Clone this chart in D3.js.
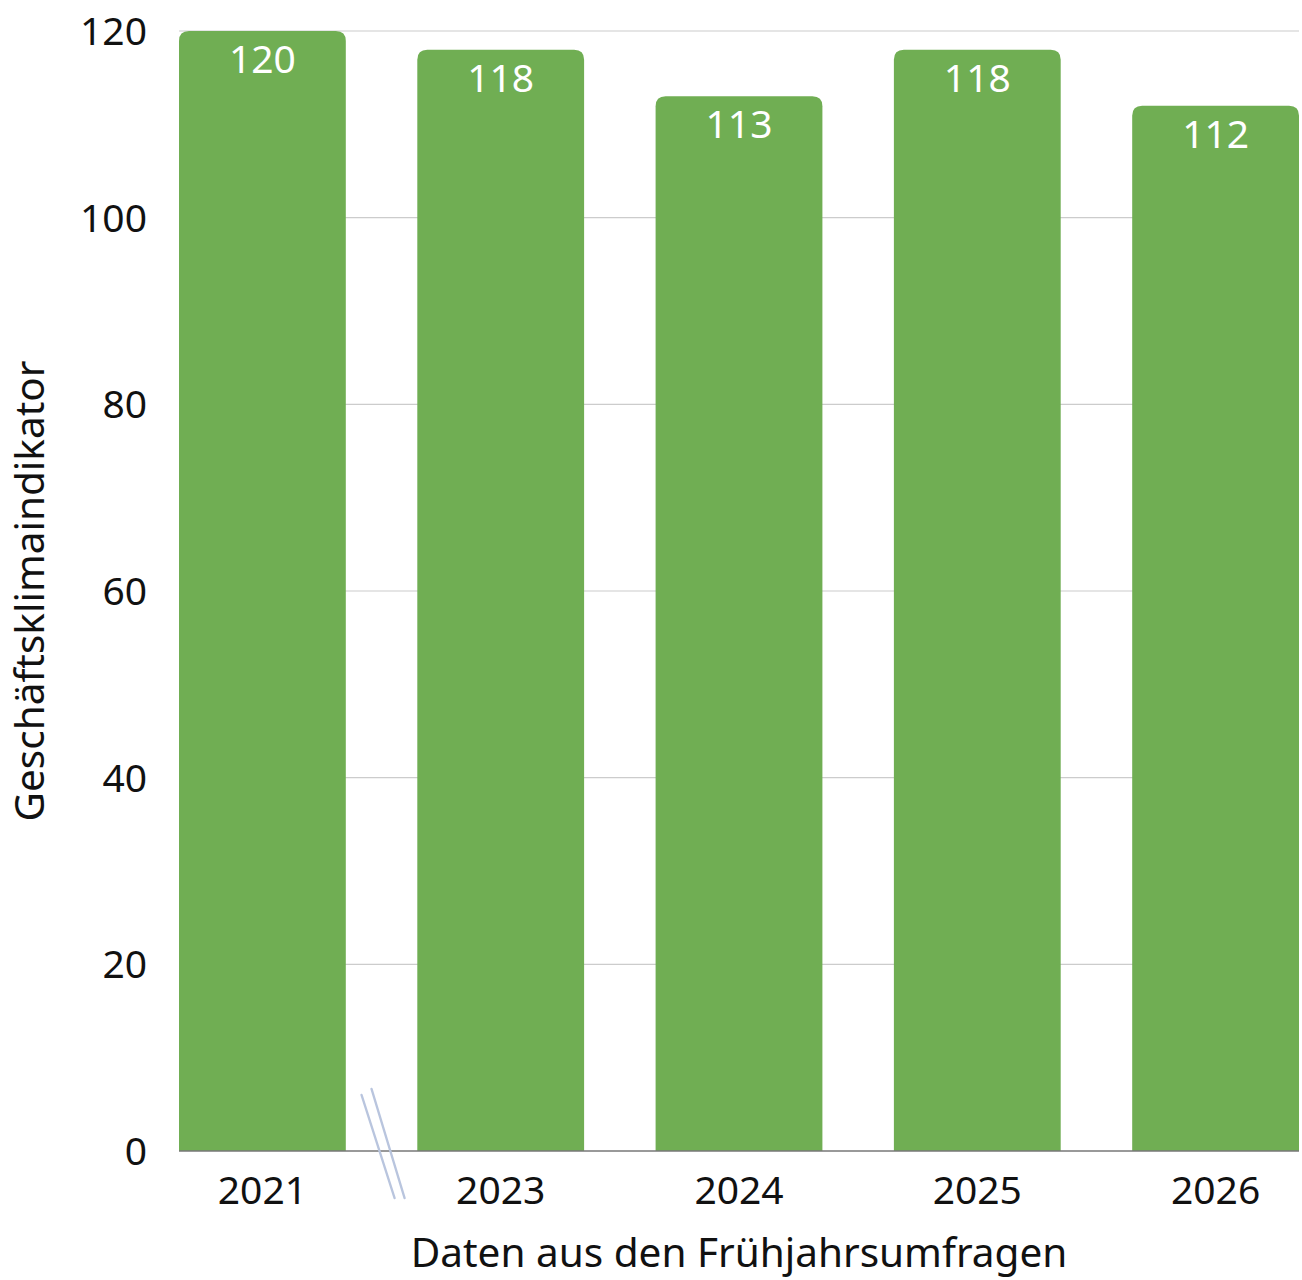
<!DOCTYPE html>
<html><head><meta charset="utf-8">
<script src="https://cdn.jsdelivr.net/npm/d3@7"></script>
<style>body{margin:0;background:#fff}svg{display:block}text{font-family:"Noto Sans",sans-serif}</style>
</head><body>
<script>
const categories = ["2021","2023","2024","2025","2026"];
const values = [120,118,113,118,112];
const yTicks = [0,20,40,60,80,100,120];
const yTitle = "Geschäftsklimaindikator";
const xTitle = "Daten aus den Frühjahrsumfragen";

const W=1302,H=1280;
const m={l:179,r:3,t:31,b:129};
const svg=d3.select("body").append("svg").attr("width",W).attr("height",H);
const x=d3.scaleBand().domain(categories).range([m.l,W-m.r]).paddingInner(0.3).paddingOuter(0);
const y=d3.scaleLinear().domain([0,120]).range([H-m.b,m.t]);
const fs=39, fsT=40.5;
// grid
svg.append("g").selectAll("line").data(yTicks.filter(d=>d>0)).join("line")
 .attr("x1",m.l).attr("x2",W-m.r).attr("y1",d=>y(d)).attr("y2",d=>y(d))
 .attr("stroke","#cccccc").attr("stroke-width",1.2);
// y labels
svg.append("g").selectAll("text").data(yTicks).join("text")
 .attr("x",147).attr("y",d=>y(d)+14).attr("text-anchor","end")
 .attr("font-size",fs).attr("fill","#111").text(d=>d);
// bars
const r=10;
function barPath(x0,y0,w,h){
  return `M${x0},${y0+h}V${y0+r}Q${x0},${y0} ${x0+r},${y0}H${x0+w-r}Q${x0+w},${y0} ${x0+w},${y0+r}V${y0+h}Z`;
}
svg.append("g").selectAll("path").data(categories).join("path")
 .attr("d",(c,i)=>barPath(x(c),y(values[i]),x.bandwidth(),y(0)-y(values[i])))
 .attr("fill","#70ae53");
// value labels
svg.append("g").selectAll("text").data(categories).join("text")
 .attr("x",c=>x(c)+x.bandwidth()/2).attr("y",(c,i)=>y(values[i])+42)
 .attr("text-anchor","middle").attr("font-size",fs).attr("fill","#fff").text((c,i)=>values[i]);
// baseline
svg.append("line").attr("x1",m.l).attr("x2",W-m.r).attr("y1",y(0)).attr("y2",y(0))
 .attr("stroke","#777").attr("stroke-width",1.5);
// break marks
const gx=(x(categories[0])+x.bandwidth()+x(categories[1]))/2;
[[-20,0],[-10,-6]].forEach(([dx,dy])=>{
  svg.append("line").attr("x1",gx+dx).attr("y1",y(0)-56+dy).attr("x2",gx+dx+33).attr("y2",y(0)+47)
   .attr("stroke","#b9c5de").attr("stroke-width",2.4).attr("stroke-linecap","round");
});
// x labels
svg.append("g").selectAll("text").data(categories).join("text")
 .attr("x",c=>x(c)+x.bandwidth()/2).attr("y",y(0)+53).attr("text-anchor","middle")
 .attr("font-size",fs).attr("fill","#111").text(c=>c);
// titles
svg.append("text").attr("x",(m.l+W-m.r)/2).attr("y",1267).attr("text-anchor","middle")
 .attr("font-size",fsT).attr("fill","#111").text(xTitle);
svg.append("text").attr("transform",`translate(44,${591}) rotate(-90)`).attr("text-anchor","middle")
 .attr("font-size",fsT).attr("fill","#111").text(yTitle);
</script>
</body></html>
